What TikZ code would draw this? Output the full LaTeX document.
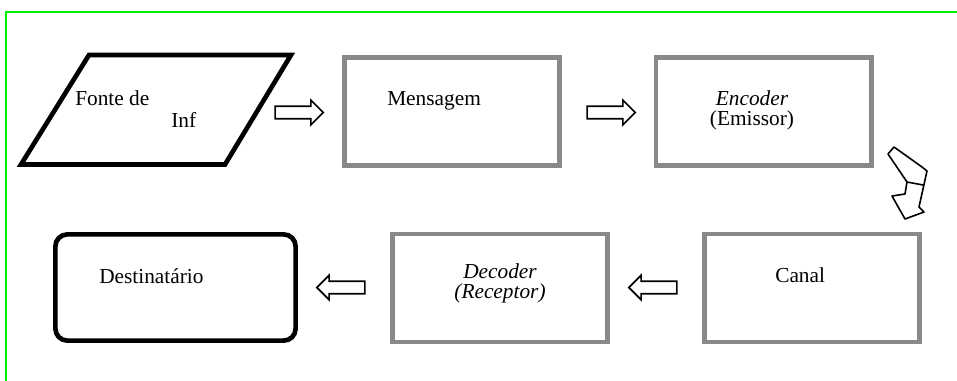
\documentclass[tikz,border=0pt]{standalone}
\usepackage{fontspec}
\setmainfont{Liberation Serif}[
  UprightFont=*, ItalicFont=* Italic, BoldFont=* Bold]
\usepackage{tikz}
\usetikzlibrary{positioning, shapes.arrows}
\definecolor{cframe}{HTML}{00F000}
\definecolor{cbox}{HTML}{898989}

\begin{document}
\begin{tikzpicture}[
  x=0.75pt, y=-0.75pt,
  font=\rmfamily\fontsize{16}{19}\selectfont,
  block/.style={
    draw=#1, line width=3.5pt, minimum width=161.5pt, minimum height=81.2pt,
    inner sep=0pt
  },
  label/.style={inner sep=0pt},
  flow/.style={
    single arrow, draw=black, fill=white, line width=1.2pt,
    single arrow head extend=4.5pt, single arrow tip angle=90,
    minimum height=36pt, inner xsep=0pt, inner ysep=4.1pt
  }
]
\useasboundingbox (0,0) rectangle (957,381);

% frame lines along the top and left
\draw[cframe, line width=1.5pt] (957,12) -- (6,12) -- (6,381);

% ============================================================
% TOP row: source, message, encoder
% ============================================================
\draw[line width=3.5pt, line join=miter]
  (89,55) -- (291,55) -- (225,164.5) -- (21,164.5) -- cycle;
\node[label, anchor=base west] (fonte) at (75,106) {Fonte de};
\node[label, anchor=base west] (inf) at (171,128) {Inf};

\node[block=cbox] (msg) at (452,111.5) {};
\node[label, anchor=base west] (msgtxt) at (387,106) {Mensagem};

\node[block=cbox] (enc) at (763.5,111.5) {};
\node[label, anchor=base] (enctxt) at (752,106) {\itshape Encoder};
\node[label, anchor=base] (emis) at (752,126) {(Emissor)};

\node[flow] (a1) at (296,112.5) {};
\node[flow] (a2) at (608,112.5) {};

% bent arrow down to the channel
\draw[line width=1.2pt, fill=white, line join=round]
  (888,154) -- (894,147) -- (922,167) -- (927,171) -- (919,207) --
  (924,212) -- (905,219) -- (892,196) -- (905,194) -- (907,182) --
  (888,154) -- cycle;
\draw[line width=1.2pt] (907,182) -- (923,185);

% ============================================================
% BOTTOM row: channel, decoder, destination
% ============================================================
\node[block=cbox] (canal) at (812,288) {};
\node[label, anchor=base west] (canaltxt) at (775,282) {Canal};

\node[block=cbox] (dec) at (500,288) {};
\node[label, anchor=base] (dectxt) at (500,278) {\itshape Decoder};
\node[label, anchor=base] (recep) at (500,298) {\itshape (Receptor)};

\node[block=black, rounded corners=9pt, minimum width=180.2pt,
  minimum height=79.7pt] (dest) at (175.5,287.5) {};
\node[label, anchor=base west] (desttxt) at (99,283) {Destinatário};

\node[flow, shape border rotate=180] (a3) at (656,287.5) {};
\node[flow, shape border rotate=180] (a4) at (344,287.5) {};

\end{tikzpicture}
\end{document}
